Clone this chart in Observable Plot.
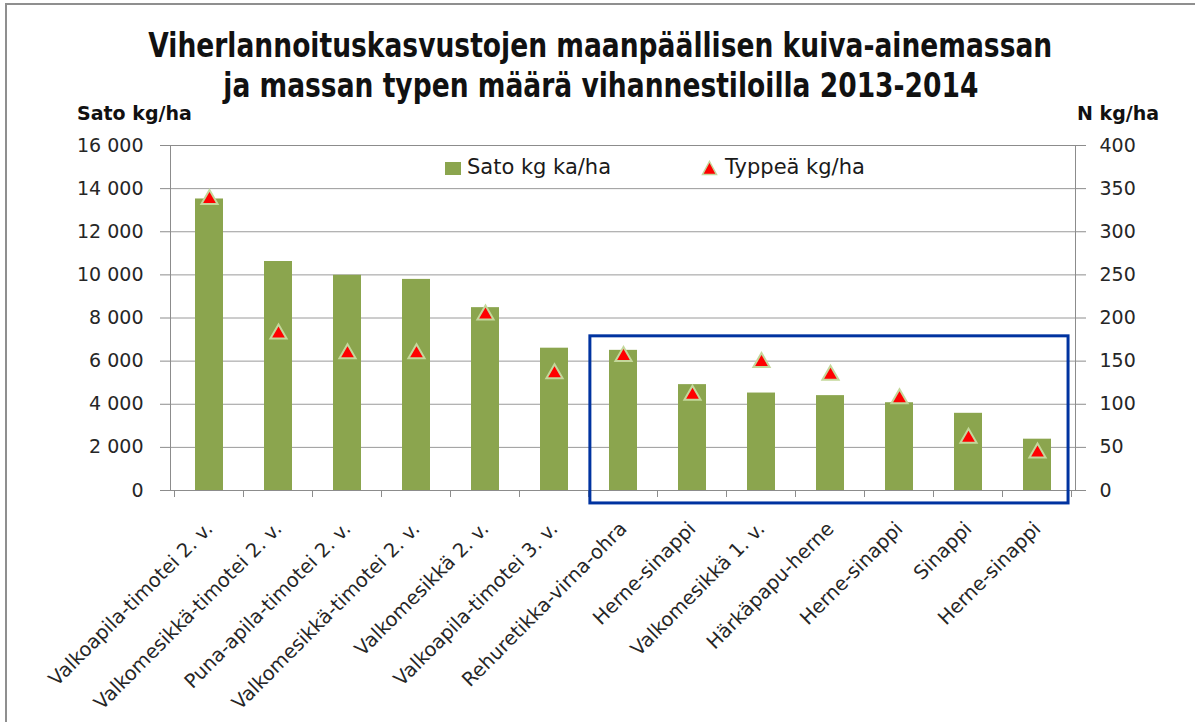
<!DOCTYPE html>
<html>
<head>
<meta charset="utf-8">
<script src="https://cdn.jsdelivr.net/npm/d3@7"></script>
<script src="https://cdn.jsdelivr.net/npm/@observablehq/plot@0.6"></script>
<style>
  html, body { margin: 0; padding: 0; background: #fff; overflow: hidden; }
  #wrap { position: relative; width: 1195px; height: 722px; overflow: hidden; background: #fff;
          font-family: "DejaVu Sans", sans-serif; color: #1a1a1a; }
  #border { position: absolute; left: 5px; top: 3px; right: -20px; bottom: -20px;
            border-left: 2px solid #8f8f8f; border-top: 2px solid #8f8f8f; pointer-events: none; }
  .title { position: absolute; left: 3px; width: 1195px; text-align: center; font-weight: bold;
           font-size: 34px; line-height: 34px; white-space: nowrap; color: #111; }
  .title span { display: inline-block; transform-origin: 50% 50%; }
  #chart { position: absolute; left: 0; top: 100px; }
  .lab { position: absolute; white-space: nowrap; line-height: 1; }
  .axt { font-weight: bold; font-size: 19px; line-height: 19px; color: #111; }
  .leg { font-size: 21px; line-height: 21px; color: #1a1a1a; }
</style>
</head>
<body>
<div id="wrap">
  <div id="chart"></div>
  <div class="title" style="top:28px"><span id="t1"></span></div>
  <div class="title" style="top:68px"><span id="t2"></span></div>
  <div class="lab axt" id="ylabL" style="left:77px; top:104px"></div>
  <div class="lab axt" id="ylabR" style="left:1077px; top:104px"></div>
  <div class="lab" style="left:445px; top:162px; width:16px; height:13px; background:#8ba54e"></div>
  <div class="lab leg" id="leg1" style="left:467px; top:157px"></div>
  <svg class="lab" style="left:701px; top:160px" width="17" height="16">
    <polygon points="8.5,1.5 15.5,14.5 1.5,14.5" fill="#ff0000" stroke="#c4d79b" stroke-width="1.5"/>
  </svg>
  <div class="lab leg" id="leg2" style="left:725px; top:157px"></div>
  <div id="border"></div>
</div>
<script>
// ---- Data ----
const titleLines = [
  "Viherlannoituskasvustojen maanpäällisen kuiva-ainemassan",
  "ja massan typen määrä vihannestiloilla 2013-2014"
];
const leftTitle = "Sato kg/ha";
const rightTitle = "N kg/ha";
const seriesNames = ["Sato kg ka/ha", "Typpeä kg/ha"];

const categories = [
  "Valkoapila-timotei 2. v.",
  "Valkomesikkä-timotei 2. v.",
  "Puna-apila-timotei 2. v.",
  "Valkomesikkä-timotei 2. v.",
  "Valkomesikkä 2. v.",
  "Valkoapila-timotei 3. v.",
  "Rehuretikka-virna-ohra",
  "Herne-sinappi",
  "Valkomesikkä 1. v.",
  "Härkäpapu-herne",
  "Herne-sinappi",
  "Sinappi",
  "Herne-sinappi"
];
const sato  = [13520, 10620, 9980, 9790, 8480, 6600, 6500, 4910, 4520, 4400, 4070, 3580, 2380];
const typpi = [340, 184, 161, 161, 206, 138, 158, 113, 151, 136, 109, 63, 46];

const leftTicks  = [0, 2000, 4000, 6000, 8000, 10000, 12000, 14000, 16000];
const rightTicks = [0, 50, 100, 150, 200, 250, 300, 350, 400];
const leftMax = 16000, rightMax = 400;

// highlighted group (category units: 0 = centre of first category), values in kg/ha
const highlight = { from: 5.52, to: 12.45, top: 7150, bottom: -600 };

// ---- Build ----
const ratio = leftMax / rightMax;
const rows = categories.map((c, i) => ({ i, label: c, sato: sato[i], n: typpi[i] }));
const fiLocale = d3.formatLocale({ decimal: ",", thousands: " ", grouping: [3], currency: ["", " €"] });
const fmt = fiLocale.format(",d");

document.getElementById("t1").textContent = titleLines[0];
document.getElementById("t2").textContent = titleLines[1];
document.getElementById("ylabL").textContent = leftTitle;
document.getElementById("ylabR").textContent = rightTitle;
document.getElementById("leg1").textContent = seriesNames[0];
document.getElementById("leg2").textContent = seriesNames[1];

function extras(index, scales) {
  const x = scales.x, y = scales.y;
  const bw = typeof x.bandwidth === "function" ? x.bandwidth() : (x.bandwidth || 0);
  const step = x(1) - x(0);
  const edge = u => x(0) + bw / 2 + u * step;
  const g = d3.create("svg:g");
  for (let k = 0; k <= categories.length; k++) {
    const px = edge(k - 0.5);
    g.append("line").attr("x1", px).attr("x2", px)
      .attr("y1", y(0)).attr("y2", y(0) + 7)
      .attr("stroke", "#8c8c8c").attr("stroke-width", 1);
  }
  g.append("rect")
    .attr("x", edge(highlight.from)).attr("width", edge(highlight.to) - edge(highlight.from))
    .attr("y", y(highlight.top)).attr("height", y(highlight.bottom) - y(highlight.top))
    .attr("fill", "none").attr("stroke", "#0033a0").attr("stroke-width", 3);
  return g.node();
}

const chart = Plot.plot({
  width: 1195,
  height: 622,
  marginTop: 45,
  marginLeft: 170,
  marginRight: 120,
  marginBottom: 232,
  style: { fontFamily: "DejaVu Sans, sans-serif", fontSize: "19px", color: "#262626", background: "transparent" },
  x: { type: "band", domain: d3.range(categories.length), paddingInner: 0.6, paddingOuter: 0.3 },
  y: { domain: [0, leftMax] },
  marks: [
    Plot.gridY(leftTicks, { stroke: "#9a9a9a", strokeOpacity: 1, strokeWidth: 1 }),
    Plot.barY(rows, { x: "i", y: "sato", fill: "#8ba54e" }),
    Plot.dot(rows, { x: "i", y: d => d.n * ratio, symbol: "triangle", r: 6, dy: 2,
                     fill: "#ff0000", stroke: "#c4d79b", strokeWidth: 2 }),
    Plot.frame({ stroke: "#8c8c8c" }),
    Plot.axisY(leftTicks, { anchor: "left", tickFormat: fmt, tickSize: 10, tickPadding: 17,
                            stroke: "#8c8c8c", label: null }),
    Plot.axisY(rightTicks.map(v => v * ratio), { anchor: "right", tickFormat: d => d / ratio,
                            tickSize: 10, tickPadding: 14, stroke: "#8c8c8c", label: null }),
    Plot.axisX({ tickRotate: -45, tickSize: 0, tickPadding: 35, dx: 0, fontSize: 19.5,
                 tickFormat: i => categories[i], label: null }),
    extras
  ]
});
document.getElementById("chart").appendChild(chart);

// fit title width to the reference's condensed bold face
const t1 = document.getElementById("t1"), t2 = document.getElementById("t2");
const s = 904 / t1.getBoundingClientRect().width;
t1.style.transform = `scaleX(${s})`;
t2.style.transform = `scaleX(${s})`;
</script>
</body>
</html>
